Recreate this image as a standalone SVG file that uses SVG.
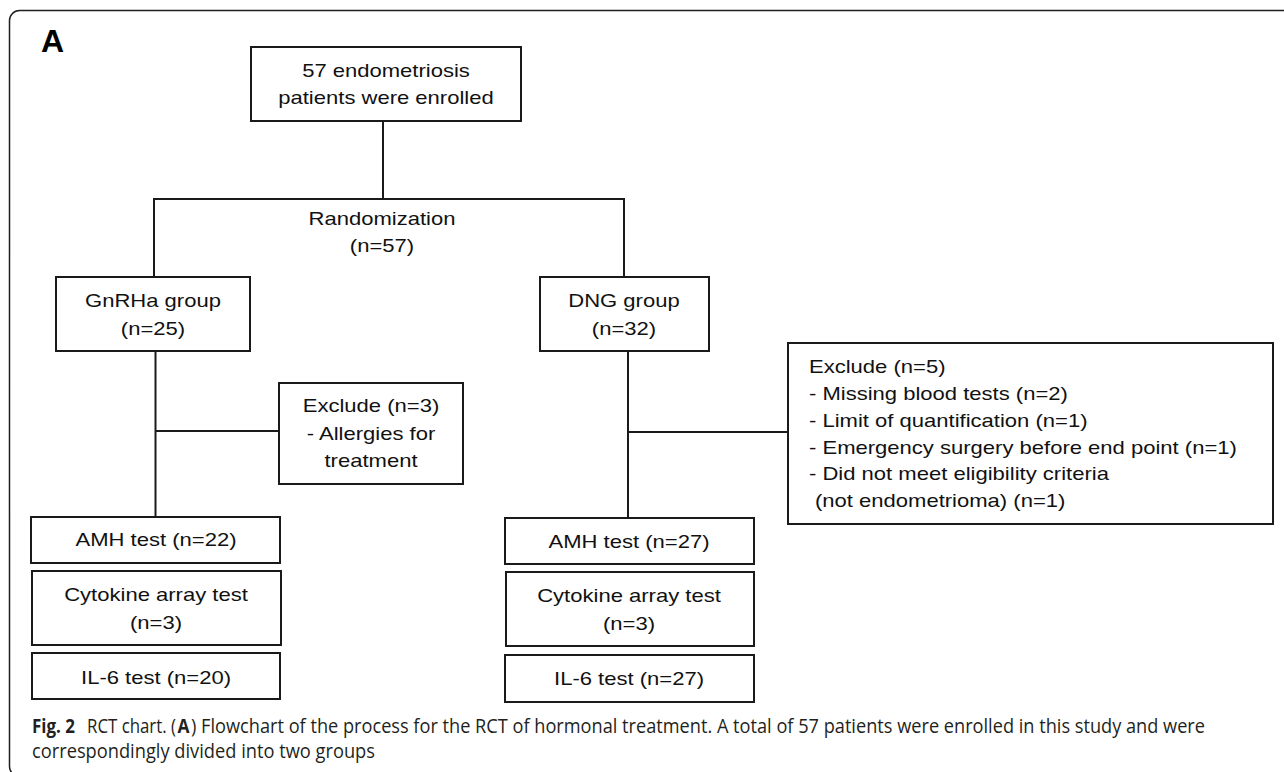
<svg xmlns="http://www.w3.org/2000/svg" width="1284" height="772" viewBox="0 0 1284 772">
<style>
.bg{fill:#ffffff}
.frame{fill:none;stroke:#1e1e1e;stroke-width:1.5}
.box{fill:#ffffff;stroke:#1a1a1a;stroke-width:2}
.ln{fill:none;stroke:#1a1a1a;stroke-width:2}
.t{font-family:"Liberation Sans",Arial,Helvetica,sans-serif;font-size:19px;fill:#111111;text-anchor:middle}
.tl{font-family:"Liberation Sans",Arial,Helvetica,sans-serif;font-size:19px;fill:#111111;text-anchor:start}
.lab{font-family:"Liberation Sans",Arial,Helvetica,sans-serif;font-size:32px;font-weight:bold;fill:#000000}
.cap{font-family:"Open Sans","Noto Sans",sans-serif;font-size:19.5px;fill:#231f20}
.b{font-weight:bold}
</style>
<rect class="bg" x="0" y="0" width="1284" height="772"/>
<rect class="frame" x="9.5" y="10.5" width="1300" height="766" rx="10" ry="10"/>
<text class="lab" x="41" y="52">A</text>

<g id="connectors">
<line class="ln" x1="383" y1="121" x2="383" y2="199"/>
<line class="ln" x1="153" y1="199" x2="625" y2="199"/>
<line class="ln" x1="154" y1="198" x2="154" y2="277"/>
<line class="ln" x1="624" y1="198" x2="624" y2="277"/>
<line class="ln" x1="155.5" y1="351" x2="155.5" y2="517"/>
<line class="ln" x1="155.5" y1="431" x2="279" y2="431"/>
<line class="ln" x1="628" y1="351" x2="628" y2="518"/>
<line class="ln" x1="628" y1="432" x2="788" y2="432"/>
</g>

<g id="enrolled">
<rect class="box" x="251" y="47" width="270" height="74"/>
<text class="t" transform="translate(386 77) scale(1.16 1)"><tspan x="0" y="0">57 endometriosis</tspan><tspan x="0" y="27">patients were enrolled</tspan></text>
</g>

<g id="randomization">
<text class="t" transform="translate(382 225) scale(1.16 1)"><tspan x="0" y="0">Randomization</tspan><tspan x="0" y="27">(n=57)</tspan></text>
</g>

<g id="gnrha">
<rect class="box" x="56" y="277" width="194" height="74"/>
<text class="t" transform="translate(153 307) scale(1.16 1)"><tspan x="0" y="0">GnRHa group</tspan><tspan x="0" y="28">(n=25)</tspan></text>
</g>

<g id="dng">
<rect class="box" x="540" y="277" width="169" height="74"/>
<text class="t" transform="translate(624 307) scale(1.16 1)"><tspan x="0" y="0">DNG group</tspan><tspan x="0" y="28">(n=32)</tspan></text>
</g>

<g id="exclude-left">
<rect class="box" x="279" y="383" width="184" height="101"/>
<text class="t" transform="translate(371 412) scale(1.16 1)"><tspan x="0" y="0">Exclude (n=3)</tspan><tspan x="0" y="28">- Allergies for</tspan><tspan x="0" y="55">treatment</tspan></text>
</g>

<g id="exclude-right">
<rect class="box" x="788" y="343" width="485" height="181"/>
<text class="tl" transform="translate(809 373) scale(1.16 1)"><tspan x="0" y="0">Exclude (n=5)</tspan><tspan x="0" y="27">- Missing blood tests (n=2)</tspan><tspan x="0" y="54">- Limit of quantification (n=1)</tspan><tspan x="0" y="81">- Emergency surgery before end point (n=1)</tspan><tspan x="0" y="107">- Did not meet eligibility criteria</tspan></text>
<text class="tl" transform="translate(815 507) scale(1.16 1)">(not endometrioma) (n=1)</text>
</g>

<g id="amh-left">
<rect class="box" x="31" y="517" width="249" height="46"/>
<text class="t" transform="translate(156 546) scale(1.16 1)">AMH test (n=22)</text>
</g>

<g id="cytokine-left">
<rect class="box" x="32" y="571" width="249" height="74"/>
<text class="t" transform="translate(156 601) scale(1.16 1)"><tspan x="0" y="0">Cytokine array test</tspan><tspan x="0" y="28">(n=3)</tspan></text>
</g>

<g id="il6-left">
<rect class="box" x="32" y="653" width="248" height="46"/>
<text class="t" transform="translate(156 684) scale(1.16 1)">IL-6 test (n=20)</text>
</g>

<g id="amh-right">
<rect class="box" x="505" y="518" width="249" height="46"/>
<text class="t" transform="translate(629 548) scale(1.16 1)">AMH test (n=27)</text>
</g>

<g id="cytokine-right">
<rect class="box" x="506" y="572" width="248" height="74"/>
<text class="t" transform="translate(629 602) scale(1.16 1)"><tspan x="0" y="0">Cytokine array test</tspan><tspan x="0" y="28">(n=3)</tspan></text>
</g>

<g id="il6-right">
<rect class="box" x="505" y="655" width="249" height="47"/>
<text class="t" transform="translate(629 685) scale(1.16 1)">IL-6 test (n=27)</text>
</g>

<g id="caption">
<text class="cap b" x="32" y="733" textLength="43" lengthAdjust="spacingAndGlyphs">Fig. 2</text>
<text class="cap" x="87" y="733" textLength="89" lengthAdjust="spacingAndGlyphs">RCT chart. (</text>
<text class="cap b" x="177.5" y="733" textLength="12" lengthAdjust="spacingAndGlyphs">A</text>
<text class="cap" x="191" y="733" textLength="1014" lengthAdjust="spacingAndGlyphs">) Flowchart of the process for the RCT of hormonal treatment. A total of 57 patients were enrolled in this study and were</text>
<text class="cap" x="32" y="758" textLength="343" lengthAdjust="spacingAndGlyphs">correspondingly divided into two groups</text>
</g>
</svg>
